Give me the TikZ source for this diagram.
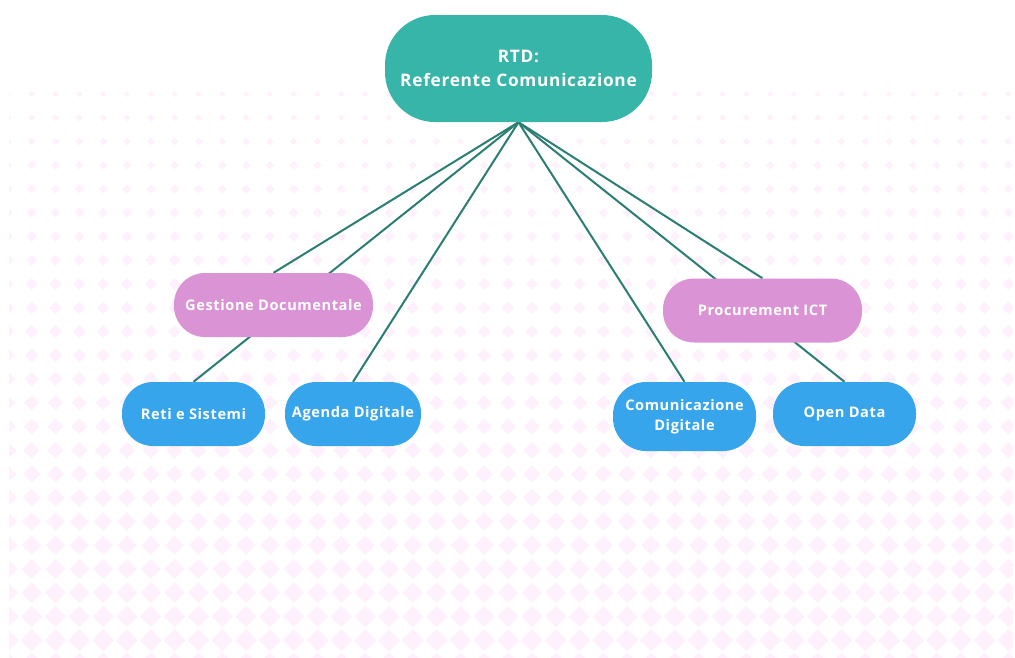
\documentclass[tikz,border=0pt]{standalone}
\usepackage{fontspec}
\setmainfont{Open Sans}[LetterSpace=4]

\definecolor{hubcol}{HTML}{37B5A9}
\definecolor{areacol}{HTML}{DA93D5}
\definecolor{leafcol}{HTML}{37A5EC}
\definecolor{linkcol}{HTML}{2A7E72}
\definecolor{dotcol}{HTML}{FEF0FC}

\pgfdeclarelayer{pattern}
\pgfdeclarelayer{links}
\pgfsetlayers{pattern,links,main}

\begin{document}
\begin{tikzpicture}[x = 1pt, y = -1pt,
	box/.style = {rounded corners = 31pt, minimum height = 64pt, inner sep = 0pt,
		text = white, align = center, font = \bfseries\fontsize{14.6}{20}\selectfont},
	hub/.style = {box, fill = hubcol, minimum width = 267pt, minimum height = 107pt,
		rounded corners = 50pt, font = \bfseries\fontsize{17.3}{24}\selectfont},
	area/.style = {box, fill = areacol, minimum width = 199pt},
	leaf/.style = {box, fill = leafcol, minimum width = 143pt},
	link/.style = {linkcol, line width = 2pt}]

	% Page and dotted backdrop

	\useasboundingbox (0, 0) rectangle (1015, 657);

	\begin{pgfonlayer}{pattern}
		\fill [white] (0, 0) rectangle (1015, 657);
		\begin{scope}
			\clip (9, 80) rectangle (1013, 657);
			\foreach \j in {0, ..., 24} {
				\pgfmathsetmacro{\yy}{94 + 23.75 * \j}
				\pgfmathsetmacro{\rr}{3 + 8 * (\yy - 94) / 547}
				\foreach \i in {-1, ..., 41}
					\fill [dotcol] ({31.7 + 23.82 * \i}, \yy) +(-\rr, 0) -- +(0, -\rr) -- +(\rr, 0) -- +(0, \rr) -- cycle;
			}
		\end{scope}
	\end{pgfonlayer}

	% The boxes

	\node [hub] (rtd) at (518.5, 68.5) {RTD:\\Referente Comunicazione};

	\node [area] (gest) at (273.5, 305) {Gestione Documentale};
	\node [area] (proc) at (762.5, 310.5) {Procurement ICT};

	\node [leaf] (reti) at (193.5, 414) {Reti e Sistemi};
	\node [leaf, minimum width = 136pt] (agenda) at (353, 414) {Agenda Digitale};
	\node [leaf, minimum height = 69pt, rounded corners = 33pt] (comdig) at (684.5, 416.5) {Comunicazione\\Digitale};
	\node [leaf] (open) at (844.5, 414) {Open Data};

	% Links from the top box

	\begin{pgfonlayer}{links}
		\foreach \t in {gest, reti, agenda, comdig, proc, open}
			\draw [link] (rtd.south) -- (\t.north);
	\end{pgfonlayer}

\end{tikzpicture}
\end{document}
